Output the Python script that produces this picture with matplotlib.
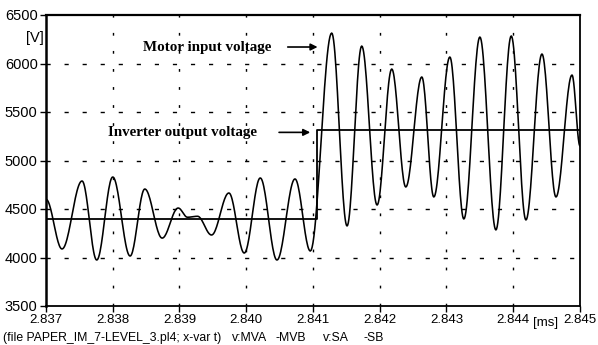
import numpy as np
import matplotlib
matplotlib.use("Agg")
import matplotlib.pyplot as plt

# ---- data ----
# motor input voltage: successive extrema (time in ms, voltage in V)
motor_t = [2.83700, 2.83724, 2.83754, 2.83776, 2.83800, 2.83826, 2.83848, 2.83874,
           2.83898, 2.83912, 2.83927, 2.83948, 2.83974, 2.83997, 2.84021, 2.84046,
           2.84073, 2.84096, 2.84128, 2.84151, 2.84173, 2.84196, 2.84218, 2.84239,
           2.84263, 2.84281, 2.84305, 2.84326, 2.84350, 2.84374, 2.84397, 2.84419,
           2.84443, 2.84464, 2.84488, 2.84500]
motor_v = [4600, 4088, 4789, 3974, 4830, 4015, 4706, 4200,
           4510, 4415, 4425, 4232, 4665, 4046, 4820, 3974,
           4810, 4067, 6314, 4325, 6180, 4541, 5943, 4727,
           5861, 4624, 6067, 4397, 6273, 4284, 6284, 4387,
           6098, 4624, 5881, 5150]

# inverter output voltage (step)
inv_t = [2.83700, 2.84106, 2.84106, 2.84500]
inv_v = [4400, 4400, 5310, 5310]

x_ticks = [2.837, 2.838, 2.839, 2.840, 2.841, 2.842, 2.843, 2.844, 2.845]
x_labels = ["2.837", "2.838", "2.839", "2.840", "2.841", "2.842", "2.843", "2.844", "2.845"]
y_ticks = [3500, 4000, 4500, 5000, 5500, 6000, 6500]
y_labels = ["3500", "4000", "4500", "5000", "5500", "6000", "6500"]

footer_parts = ["(file PAPER_IM_7-LEVEL_3.pl4; x-var t)", "v:MVA", "-MVB", "v:SA", "-SB"]

# ---- smooth rendering between extrema (half-cosine segments) ----
def smooth_extrema(t, v, n=24):
    xs, ys = [], []
    for i in range(len(t) - 1):
        s = np.linspace(0, 1, n, endpoint=False)
        w = (1 - np.cos(np.pi * s)) / 2
        xs.append(t[i] + (t[i + 1] - t[i]) * s)
        ys.append(v[i] + (v[i + 1] - v[i]) * w)
    xs.append([t[-1]]); ys.append([v[-1]])
    return np.concatenate(xs), np.concatenate(ys)

W, H = 598, 345
fig = plt.figure(figsize=(W / 100, H / 100), dpi=100)
ax = fig.add_axes([46 / W, (H - 306) / H, (580 - 46) / W, (306 - 15) / H])

sans = "Liberation Sans"
serif = "Liberation Serif"

mx, my = smooth_extrema(motor_t, motor_v)
ax.plot(mx, my, color="black", lw=1.15)
ax.plot(inv_t, inv_v, color="black", lw=1.3)

ax.set_xlim(2.837, 2.845)
ax.set_ylim(3500, 6500)
ax.set_xticks(x_ticks)
ax.set_xticklabels(x_labels, fontfamily=sans, fontsize=9.5)
ax.set_yticks(y_ticks)
ax.set_yticklabels(y_labels, fontfamily=sans, fontsize=10.5)
ax.tick_params(axis="both", direction="out", length=4.5, width=1.0, color="black", pad=1.5)

# grid
for yt in y_ticks[1:-1]:
    ax.axhline(yt, color="black", lw=1.0, dashes=(3, 10))
for xt in x_ticks[1:-1]:
    ax.axvline(xt, color="black", lw=1.0, dashes=(2, 11))

for side, lw in [("left", 1.8), ("top", 1.6), ("right", 1.3), ("bottom", 1.3)]:
    ax.spines[side].set_linewidth(lw)
    ax.spines[side].set_color("black")

# annotations
ax.annotate("", xy=(2.84111, 6170), xytext=(2.84058, 6170),
            arrowprops=dict(arrowstyle="-|>", color="black", lw=1.2, mutation_scale=10))
ax.text(2.83845, 6170, "Motor input voltage", fontfamily=serif, fontweight="bold",
        fontsize=10.8, ha="left", va="center")
ax.annotate("", xy=(2.84100, 5290), xytext=(2.84045, 5290),
            arrowprops=dict(arrowstyle="-|>", color="black", lw=1.2, mutation_scale=10))
ax.text(2.83793, 5290, "Inverter output voltage", fontfamily=serif, fontweight="bold",
        fontsize=10.8, ha="left", va="center")

fig.text(35 / W, 1 - 38 / H, "[V]", fontfamily=sans, fontsize=10.5, ha="center", va="center")
fig.text(546 / W, 1 - 323 / H, "[ms]", fontfamily=sans, fontsize=9.5, ha="center", va="center")
footer_x = [3, 232, 275, 323, 363]
for px, txt in zip(footer_x, footer_parts):
    fig.text(px / W, 1 - 338 / H, txt, fontfamily=sans, fontsize=8.8, ha="left", va="center")

fig.savefig("out.png", dpi=100)
